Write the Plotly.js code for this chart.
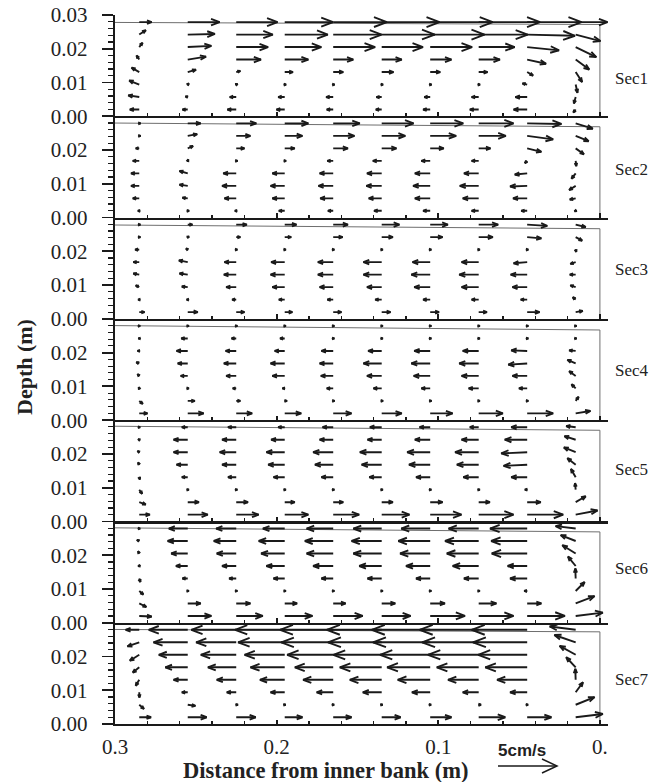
<!DOCTYPE html>
<html>
<head>
<meta charset="utf-8">
<script src="https://cdn.plot.ly/plotly-3.0.1.min.js"></script>
<style>
  html, body { margin: 0; padding: 0; background: #fff; }
  #chart { width: 652px; height: 782px; }
</style>
</head>
<body>
<div id="chart"></div>
<script>
// Measuring stations across the flume (m from inner bank) and measuring depths (m)
const stations = [0.285, 0.255, 0.225, 0.195, 0.165, 0.135, 0.105, 0.075, 0.045, 0.015];
const depths = [0.002, 0.0057, 0.0094, 0.0131, 0.0168, 0.0205, 0.0242, 0.0279];
const sectionNames = ['Sec1', 'Sec2', 'Sec3', 'Sec4', 'Sec5', 'Sec6', 'Sec7'];

// Water surface level at the inner side (x = 0.3) and at the outer wall (x = 0)
const surfaceInner = [0.0278, 0.0280, 0.0278, 0.0280, 0.0282, 0.0281, 0.0280];
const surfaceOuter = [0.0272, 0.0269, 0.0267, 0.0267, 0.0270, 0.0269, 0.0273];

// Secondary velocity components in cm/s.
// u > 0 points toward the outer bank (to the right), w > 0 points upward.
// One inner list per station, values ordered from bottom to top.
const sec1U = [
  [-0.8, -0.93, -0.85, -0.65, -0.23, 0.28, 0.56, 1.05],
  [-0.45, -0.2, 0.1, 0.7, 1.55, 2.0, 2.3, 2.7],
  [-0.75, -0.55, 0.12, 0.35, 2.1, 2.7, 3.1, 3.5],
  [-0.7, -0.55, 0.12, 0.7, 2.0, 3.1, 3.65, 4.1],
  [-0.55, -0.6, 0.12, 0.85, 1.7, 3.55, 4.1, 4.55],
  [-0.5, -0.45, 0.12, 1.0, 1.7, 3.5, 4.5, 4.9],
  [-0.6, -0.5, 0.12, 0.85, 1.8, 3.55, 4.6, 5.3],
  [-0.75, -0.6, 0.12, 0.75, 1.8, 3.05, 4.15, 5.2],
  [-1.15, -1.0, -0.4, 0.5, 1.6, 2.7, 4.05, 4.6],
  [-0.2, -0.15, 0.15, 0.55, 1.15, 1.75, 2.1, 2.7]
];
const sec1W = [
  [0, 0.14, 0.34, 0.37, 0.34, 0.37, 0.37, 0],
  [0, 0.05, 0.1, 0.2, 0.25, 0.1, 0.05, 0],
  [0, 0, 0.05, 0.1, 0, 0, 0, 0],
  [0, 0, 0, 0, 0, 0, 0, 0],
  [0, 0, 0, 0, 0, 0, 0, 0],
  [0, 0, 0, 0, 0, 0, 0, 0],
  [0, 0, 0, 0, 0, 0, 0, 0],
  [0, 0, 0, 0, 0, 0, 0, 0],
  [0, 0, 0.1, -0.3, -0.35, -0.28, -0.1, 0],
  [-0.25, -0.55, -0.7, -0.85, -0.85, -0.85, -0.55, 0]
];

const sec2U = [
  [-0.12, -0.55, -0.7, -0.7, -0.55, -0.3, 0.12, 0.12],
  [0.12, -0.45, -0.7, -0.7, 0.05, 0.45, 0.8, 1.1],
  [-0.12, -1.0, -1.2, -1.1, 0.12, 0.7, 1.2, 1.7],
  [-0.5, -1.05, -1.2, -1.05, 0.12, 0.85, 1.5, 2.0],
  [-0.45, -1.1, -1.25, -1.15, -0.5, 1.25, 1.8, 2.25],
  [-0.65, -1.1, -1.3, -1.25, -0.75, 1.25, 2.0, 2.7],
  [-0.6, -1.3, -1.45, -1.3, -0.75, 1.15, 2.2, 2.8],
  [-0.6, -1.35, -1.6, -1.25, -0.6, 1.0, 2.3, 2.95],
  [-0.5, -1.2, -1.45, -1.05, -0.2, 1.2, 2.2, 2.9],
  [-0.1, -0.5, -0.55, -0.35, 0.05, 0.7, 1.1, 1.45]
];
const sec2W = [
  [0, 0, 0, 0, 0, 0, 0, 0],
  [0, 0.05, 0.1, 0.2, 0.12, 0.2, 0.15, 0],
  [0, 0, 0, 0, 0, 0, 0, 0],
  [0, 0, 0, 0, 0, 0, 0, 0],
  [0, 0, 0, 0, 0, 0, 0, 0],
  [0, 0, 0, 0, 0, 0, 0, 0],
  [0, 0, 0, 0, 0, 0, 0, 0],
  [0, 0, 0, 0, 0, 0, 0, 0],
  [0, 0, -0.05, -0.1, -0.2, -0.3, -0.3, -0.05],
  [-0.05, -0.1, -0.35, -0.45, -0.45, -0.5, -0.45, -0.45]
];

const sec3U = [
  [0.45, -0.1, -0.3, -0.5, -0.5, -0.35, 0.1, 0.1],
  [0.85, -0.1, -0.5, -0.7, -0.75, -0.15, 0.12, 0.4],
  [0.7, -0.35, -0.85, -1.05, -1.0, 0.1, 0.35, 0.9],
  [0.65, -0.5, -1.05, -1.2, -1.15, 0.1, 0.55, 1.0],
  [0.7, -0.5, -1.15, -1.3, -1.3, 0.1, 0.8, 1.25],
  [0.75, -0.55, -1.25, -1.55, -1.55, 0.1, 0.95, 1.5],
  [0.75, -0.6, -1.35, -1.6, -1.5, 0.1, 1.05, 1.5],
  [0.7, -0.6, -1.45, -1.65, -1.45, 0.1, 1.2, 1.65],
  [1.05, -0.55, -1.25, -1.4, -1.15, 0.1, 1.2, 1.7],
  [0.6, -0.25, -0.45, -0.5, -0.45, 0.05, 0.55, 0.85]
];
const sec3W = [
  [0, 0, 0.15, 0.1, 0, 0, 0, 0],
  [0, 0, 0.05, 0.1, 0.15, 0.1, 0.05, 0],
  [0, 0, 0, 0, 0, 0, 0, 0],
  [0, 0, 0, 0, 0, 0, 0, 0],
  [0, 0, 0, 0, 0, 0, 0, 0],
  [0, 0, 0, 0, 0, 0, 0, 0],
  [0, 0, 0, 0, 0, 0, 0, 0],
  [0, 0, 0, 0, 0, 0, 0, 0],
  [0, 0, 0, 0, -0.1, 0, -0.1, -0.1],
  [0.1, 0.2, 0.15, 0, -0.15, -0.2, -0.3, -0.2]
];

const sec4U = [
  [0.7, 0.3, -0.05, -0.15, -0.25, -0.15, -0.08, 0.08],
  [1.35, 0.6, 0.1, -0.6, -0.85, -0.95, -0.55, 0.1],
  [1.35, 0.35, -0.3, -0.85, -1.05, -0.9, -0.4, 0.1],
  [1.4, 0.2, -0.2, -1.05, -1.2, -0.85, -0.4, 0.1],
  [1.55, 0.12, -0.55, -1.05, -1.15, -1.0, 0.1, 0.1],
  [1.7, 0.12, -0.7, -1.25, -1.55, -1.15, 0.1, 0.1],
  [1.9, 0.12, -0.75, -1.4, -1.6, -1.35, 0.1, 0.1],
  [2.05, 0.1, -0.85, -1.45, -1.65, -1.35, 0.1, 0.1],
  [2.2, 0.1, -0.7, -1.25, -1.6, -1.35, 0.1, 0.1],
  [1.25, 0.25, -0.35, -0.55, -0.7, -0.55, 0.08, 0.08]
];
const sec4W = [
  [0, -0.25, 0.1, 0.15, 0.1, 0, 0, 0],
  [0, 0, 0, 0, 0, 0, 0, 0],
  [0, 0, 0, 0, 0, 0, 0, 0],
  [0, 0, 0, 0, 0, 0, 0, 0],
  [0, 0, 0, 0, 0, 0, 0, 0],
  [0, 0, 0, 0, 0, 0, 0, 0],
  [0, 0, 0, 0, 0, 0, 0, 0],
  [0, 0, 0, 0, 0, 0, 0, 0],
  [0, 0, 0, 0, -0.1, 0.05, 0, 0],
  [0.2, 0.35, 0.35, 0.4, 0.3, 0.05, 0, 0]
];

const sec5U = [
  [0.9, 0.55, 0.25, 0.05, -0.1, -0.15, -0.1, 0.08],
  [1.7, 0.95, 0.1, -0.5, -0.95, -1.2, -1.2, -0.5],
  [1.9, 1.0, 0.1, -0.7, -1.2, -1.4, -1.2, -0.7],
  [2.0, 0.85, 0.1, -0.95, -1.4, -1.55, -1.15, -0.55],
  [2.2, 0.85, 0.1, -1.0, -1.55, -1.7, -1.15, -0.9],
  [2.35, 0.95, 0.1, -1.05, -1.7, -1.85, -1.2, -1.0],
  [2.65, 1.05, 0.1, -1.2, -1.8, -1.95, -1.3, -0.9],
  [2.95, 0.95, 0.1, -1.3, -1.85, -2.0, -1.45, -0.75],
  [3.05, 1.15, -0.2, -1.35, -2.0, -2.2, -1.9, -1.35],
  [1.85, 0.85, -0.05, -0.4, -0.7, -1.0, -0.95, -0.8]
];
const sec5W = [
  [0, -0.2, -0.35, -0.2, 0.2, 0.1, 0.05, 0],
  [0, 0, 0, 0, 0, 0, 0, 0],
  [0, 0, 0, 0, 0, 0, 0, 0],
  [0, 0, 0, 0, 0, 0, 0, 0],
  [0, 0, 0, 0, 0, 0, 0, 0],
  [0, 0, 0, 0, 0, 0, 0, 0],
  [0, 0, 0, 0, 0, 0, 0, 0],
  [0, 0, 0, 0, 0, 0, 0, 0],
  [0, 0, 0, 0, -0.1, -0.1, 0, 0],
  [0.35, 0.5, 0.55, 0.7, 0.55, 0.4, 0.3, 0.1]
];

const sec6U = [
  [1.05, 0.6, 0.35, 0.1, 0.05, -0.1, -0.2, 0.08],
  [2.0, 1.1, 0.1, -0.45, -1.0, -1.4, -1.7, -1.6],
  [2.25, 1.2, 0.1, -0.6, -1.2, -1.65, -1.9, -1.7],
  [2.35, 1.05, 0.1, -0.95, -1.55, -2.0, -2.2, -1.85],
  [2.5, 1.05, 0.1, -1.0, -1.7, -2.25, -2.4, -2.25],
  [2.45, 1.15, 0.1, -1.2, -1.9, -2.4, -2.55, -2.4],
  [2.95, 1.25, 0.1, -1.2, -2.05, -2.55, -2.7, -2.45],
  [2.95, 1.5, 0.1, -1.25, -2.2, -2.7, -2.85, -2.55],
  [3.2, 1.2, -0.25, -1.45, -1.65, -3.0, -3.05, -3.15],
  [2.3, 1.6, 0.76, -0.03, -0.65, -1.13, -1.27, -1.7]
];
const sec6W = [
  [-0.05, -0.3, -0.3, -0.3, 0.1, 0.2, 0.1, 0],
  [0, 0, 0, 0, 0, 0, 0, 0],
  [0, 0, 0, 0, 0, 0, 0, 0],
  [0, 0, 0, 0, 0, 0, 0, 0],
  [0, 0, 0, 0, 0, 0, 0, 0],
  [0, 0, 0, 0, 0, 0, 0, 0],
  [0, 0, 0, 0, 0, 0, 0, 0],
  [0, 0, 0, 0, 0, 0, 0, 0],
  [0, 0, 0, 0, 0, 0, 0, 0],
  [0.28, 0.62, 0.76, 0.85, 0.8, 0.7, 0.5, 0.2]
];

const sec7U = [
  [1.0, 0.4, 0.02, -0.3, -0.55, -0.8, -1.0, -1.15],
  [1.6, 0.65, -0.5, -1.2, -1.9, -2.45, -2.9, -3.3],
  [1.65, 0.15, -0.8, -1.65, -2.4, -3.0, -3.4, -3.8],
  [1.5, 0.08, -1.2, -2.1, -2.9, -3.4, -3.95, -4.2],
  [1.55, 0.08, -1.4, -2.55, -3.25, -3.9, -4.4, -4.5],
  [1.6, 0.08, -1.6, -2.7, -3.55, -4.1, -4.55, -4.65],
  [1.8, 0.08, -1.55, -2.75, -3.65, -4.25, -4.85, -4.95],
  [2.25, 0.2, -1.35, -2.6, -3.55, -4.3, -4.8, -5.0],
  [2.05, 0.08, -1.45, -2.55, -3.55, -4.15, -4.6, -4.7],
  [2.3, 1.6, 0.62, -0.03, -0.8, -1.36, -1.8, -2.2]
];
const sec7W = [
  [0, -0.35, -0.45, -0.5, -0.45, -0.5, -0.35, 0],
  [0, -0.1, 0, 0, 0, 0, 0, 0],
  [0, 0, 0, 0, 0, 0, 0, 0],
  [0, 0, 0, 0, 0, 0, 0, 0],
  [0, 0, 0, 0, 0, 0, 0, 0],
  [0, 0, 0, 0, 0, 0, 0, 0],
  [0, 0, 0, 0, 0, 0, 0, 0],
  [0, 0, 0, 0, 0, 0, 0, 0],
  [0, 0, 0, 0, 0, 0, 0, 0],
  [0.28, 0.65, 0.85, 0.93, 0.85, 0.76, 0.62, 0.28]
];

const xTickVals = [0.3, 0.2, 0.1, 0];
const xTickText = ['0.3', '0.2', '0.1', '0.'];
const depthTickVals = [0, 0.01, 0.02, 0.03];
const keySpeed = 5; // cm/s, reference arrow

// ---- page geometry ----
const W = 652, H = 782;
const M = { l: 115, r: 44, t: 15, b: 58 };
const X_RANGE = [0.3, -0.005];
const Y_RANGE = [0, 0.03];
const plotW = W - M.l - M.r;
const plotH = H - M.t - M.b;
const nPanels = 7;
const panelH = plotH / nPanels;
const mPerPxX = (X_RANGE[0] - X_RANGE[1]) / plotW;
const mPerPxY = (Y_RANGE[1] - Y_RANGE[0]) / panelH;
const PX_PER_CMS = 11.8;          // vector scale: screen pixels per cm/s
const INK = '#1a1a1a';
const SERIF = 'Liberation Serif, Times New Roman, serif';

const U = [sec1U, sec2U, sec3U, sec4U, sec5U, sec6U, sec7U];
const Wv = [sec1W, sec2W, sec3W, sec4W, sec5W, sec6W, sec7W];

// Build one arrow (shaft + open head) anchored at its tail, in data units
function pushArrow(xs, ys, x0, y0, u, w) {
  const dx = u * PX_PER_CMS, dy = w * PX_PER_CMS;   // screen px, right / up
  const len = Math.hypot(dx, dy);
  if (len < 1e-6) return;
  const ex = dx / len, ey = dy / len;
  const h = Math.min(13, 2.2 + 0.2 * len);
  const hw = 0.38 * h;
  const toX = px => x0 - px * mPerPxX;   // axis runs right-to-left
  const toY = py => y0 + py * mPerPxY;
  const bx = dx - ex * h, by = dy - ey * h;
  xs.push(toX(0), toX(dx), null,
          toX(bx - ey * hw), toX(dx), toX(bx + ey * hw), null);
  ys.push(toY(0), toY(dy), null,
          toY(by + ex * hw), toY(dy), toY(by - ex * hw), null);
}

const traces = [];
const layout = {
  width: W, height: H,
  margin: M,
  paper_bgcolor: '#fff', plot_bgcolor: '#fff',
  showlegend: false,
  annotations: [], shapes: []
};

for (let s = 0; s < nPanels; s++) {
  const k = s + 1;
  const xa = 'x' + (k === 1 ? '' : k), ya = 'y' + (k === 1 ? '' : k);

  // water surface and outer wall
  traces.push({
    type: 'scatter', mode: 'lines', xaxis: xa, yaxis: ya, hoverinfo: 'skip',
    x: [X_RANGE[0], 0, 0], y: [surfaceInner[s], surfaceOuter[s], 0],
    line: { color: '#6e6e6e', width: 1 }
  });

  // velocity vectors
  const xs = [], ys = [];
  stations.forEach((x0, j) => {
    depths.forEach((y0, r) => pushArrow(xs, ys, x0, y0, U[s][j][r], Wv[s][j][r]));
  });
  traces.push({
    type: 'scatter', mode: 'lines', xaxis: xa, yaxis: ya, hoverinfo: 'skip',
    x: xs, y: ys, connectgaps: false,
    line: { color: INK, width: 1.9 }
  });

  const top = 1 - s / nPanels, bottom = 1 - (s + 1) / nPanels;
  layout['xaxis' + (k === 1 ? '' : k)] = {
    domain: [0, 1], range: X_RANGE, anchor: ya,
    showline: true, linewidth: 2.2, linecolor: INK,
    mirror: false,
    ticks: 'inside', ticklen: 4.5, tickwidth: 2.2, tickcolor: INK,
    tickmode: 'array', tickvals: xTickVals, ticktext: xTickText,
    showticklabels: k === nPanels,
    ticklabelstandoff: 3,
    tickfont: { family: SERIF, size: 21, color: '#222' },
    minor: { tickmode: 'linear', tick0: 0, dtick: 0.02, ticks: 'inside',
             ticklen: 3, tickwidth: 1.2, tickcolor: INK },
    showgrid: false, zeroline: false, fixedrange: true
  };
  const yt = k === 1 ? depthTickVals : depthTickVals.slice(0, 3);
  layout['yaxis' + (k === 1 ? '' : k)] = {
    domain: [bottom, top], range: Y_RANGE, anchor: xa,
    showline: true, linewidth: 2.2, linecolor: INK,
    ticks: 'outside', ticklen: 11, tickwidth: 1.8, tickcolor: INK,
    tickmode: 'array', tickvals: yt, ticktext: yt.map(v => v.toFixed(2)),
    ticklabelstandoff: 10,
    tickfont: { family: SERIF, size: 21, color: '#222' },
    minor: { tickmode: 'linear', tick0: 0, dtick: 0.002, ticks: 'outside',
             ticklen: 5, tickwidth: 1.2, tickcolor: INK },
    showgrid: false, zeroline: false, fixedrange: true
  };
}

// pixel -> paper helpers
const px2paperX = px => (px - M.l) / plotW;
const px2paperY = py => (H - M.b - py) / plotH;

// section names on the right
const labelFrac = [0.37, 0.475, 0.49, 0.49, 0.51, 0.535, 0.44];
sectionNames.forEach((name, s) => {
  const k = s + 1;
  layout.annotations.push({
    text: name, showarrow: false,
    xref: 'paper', x: px2paperX(613), xanchor: 'left',
    yref: 'y' + (k === 1 ? '' : k) + ' domain', y: labelFrac[s], yanchor: 'middle',
    font: { family: SERIF, size: 17, color: '#222' }
  });
});

// axis titles
layout.annotations.push({
  text: '<b>Depth (m)</b>', showarrow: false, textangle: -90,
  xref: 'paper', yref: 'paper', x: px2paperX(24), y: px2paperY(367),
  xanchor: 'center', yanchor: 'middle',
  font: { family: SERIF, size: 22, color: '#222' }
});
layout.annotations.push({
  text: '<b>Distance from inner bank (m)</b>', showarrow: false,
  xref: 'paper', yref: 'paper', x: px2paperX(325), y: px2paperY(771),
  xanchor: 'center', yanchor: 'middle',
  font: { family: SERIF, size: 22.5, color: '#222' }
});

// velocity key
layout.annotations.push({
  text: '<b>' + keySpeed + 'cm/s</b>', showarrow: false,
  xref: 'paper', yref: 'paper', x: px2paperX(522), y: px2paperY(750),
  xanchor: 'center', yanchor: 'middle',
  font: { family: 'Liberation Sans, Arial, sans-serif', size: 17, color: '#222' }
});
(function () {
  const tailPx = 498, yPx = 766;
  const tipPx = tailPx + keySpeed * PX_PER_CMS;
  const h = 15, hw = 7;
  const X = px2paperX, Y = px2paperY;
  layout.shapes.push({
    type: 'line', xref: 'paper', yref: 'paper',
    x0: X(tailPx), y0: Y(yPx), x1: X(tipPx), y1: Y(yPx),
    line: { color: INK, width: 1.5 }
  });
  layout.shapes.push({
    type: 'path', xref: 'paper', yref: 'paper',
    path: `M ${X(tipPx - h)} ${Y(yPx - hw)} L ${X(tipPx)} ${Y(yPx)} L ${X(tipPx - h)} ${Y(yPx + hw)}`,
    line: { color: INK, width: 1.5 }
  });
})();

Plotly.newPlot('chart', traces, layout, { displayModeBar: false, staticPlot: true });
</script>
</body>
</html>
